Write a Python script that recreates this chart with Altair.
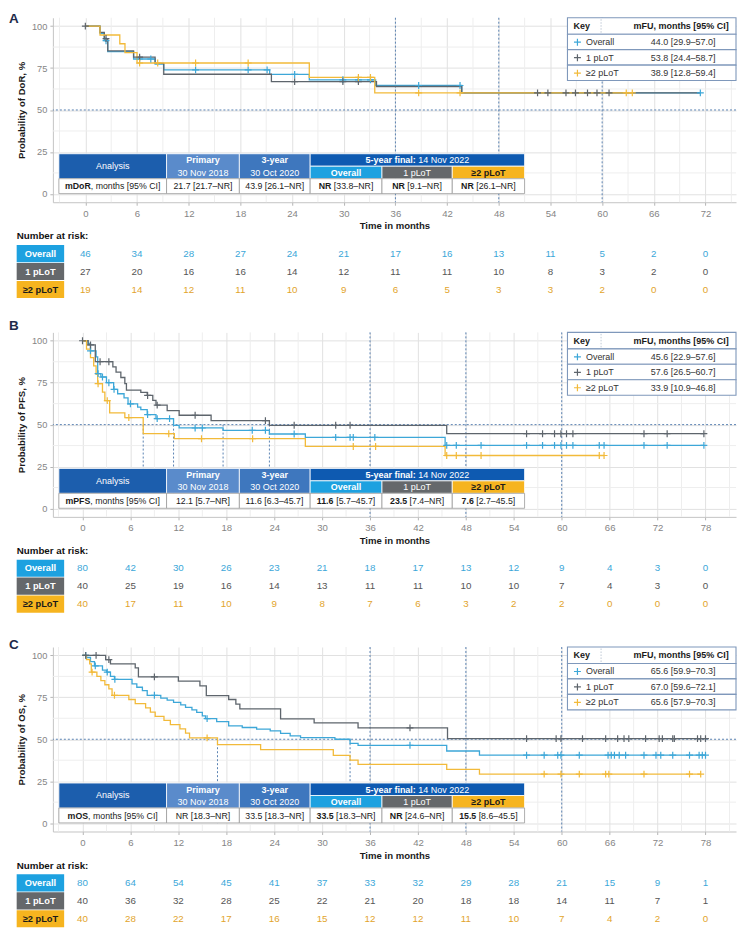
import altair as alt
import pandas as pd

FONT = "Liberation Sans"

# ---------------------------------------------------------------- data
groups = ["Overall", "1 pLoT", "≥2 pLoT"]

# Panel A - duration of response (KM steps: time in months, survival %)
dor_overall_t = [0, 1.7, 2.2, 2.6, 5.6, 8.1, 9.1, 21.4, 26.0, 33.7, 43.7]
dor_overall_s = [100, 95.7, 91.3, 84.8, 80.4, 77.4, 73.9, 71.2, 68.0, 64.6, 60.2]
dor_overall_end = 71.4
dor_overall_cens = [2.4, 6.3, 7.6, 12.8, 18.9, 21.1, 24.3, 29.9, 31.7, 33.1, 38.7, 43.5, 71.4]
dor_1plot_t = [0, 1.7, 2.2, 2.6, 5.6, 8.1, 9.1, 21.6, 33.8, 43.7]
dor_1plot_s = [100, 96.3, 92.6, 85.2, 81.5, 77.8, 71.3, 66.9, 64.0, 60.2]
dor_1plot_end = 71.4
dor_1plot_cens = [0, 2.4, 6.3, 24.3, 29.9, 31.7, 52.5, 53.7, 55.8, 56.9, 58.3, 59.4, 60.8]
dor_2plot_t = [0, 1.7, 4.0, 4.6, 6.0, 26.0, 33.6]
dor_2plot_s = [100, 94.7, 89.5, 84.2, 78.0, 69.4, 60.2]
dor_2plot_end = 63.5
dor_2plot_cens = [6.3, 8.4, 12.8, 18.9, 31.7, 33.1, 38.7, 43.5, 62.8, 63.5]

# Panel B - progression-free survival
pfs_overall_t = [0, 0.7, 1.0, 1.7, 1.9, 2.3, 3.0, 3.9, 4.4, 5.2, 5.7, 6.9, 7.3, 8.1, 9.2,
                 11.4, 12.1, 17.6, 23.4, 27.9, 45.4]
pfs_overall_s = [100, 98.4, 94.0, 90.4, 80.4, 78.4, 75.0, 71.0, 68.4, 66.0, 62.4, 60.4, 59.0, 56.0, 53.6,
                 49.6, 48.0, 46.6, 44.4, 42.4, 37.6]
pfs_overall_end = 77.8
pfs_overall_cens = [1.0, 1.95, 2.5, 3.3, 3.95, 6.0, 8.15, 9.35, 10.9, 14.1, 15.0, 21.25, 22.9, 26.5,
                    31.7, 33.5, 33.9, 36.6, 45.6, 46.8, 49.9, 55.6, 57.6, 59.1, 59.9, 60.6, 61.4,
                    64.7, 65.3, 70.3, 73.2, 77.8]
pfs_1plot_t = [0, 0.7, 1.6, 3.8, 4.2, 4.8, 5.3, 5.5, 7.3, 8.1, 8.8, 9.2, 10.6, 12.1, 16.1, 23.4, 45.6]
pfs_1plot_s = [100, 97.5, 87.5, 84.4, 81.3, 78.1, 74.4, 70.6, 69.2, 67.4, 64.4, 61.6, 58.4, 55.6, 52.4,
               49.6, 44.6]
pfs_1plot_end = 77.8
pfs_1plot_cens = [0, 1.0, 2.2, 3.3, 8.15, 9.35, 14.1, 22.9, 26.5, 31.7, 33.5, 55.6, 57.6, 59.1, 59.9,
                  60.6, 61.4, 70.3, 73.2, 77.8]
pfs_2plot_t = [0, 0.5, 1.0, 1.4, 1.7, 1.9, 2.5, 2.8, 3.4, 5.3, 7.6, 11.5, 27.9, 45.4]
pfs_2plot_s = [100, 95, 90, 85, 80, 74.4, 69.4, 64.3, 57.0, 54.2, 44.6, 41.6, 37.0, 31.6]
pfs_2plot_end = 65.3
pfs_2plot_cens = [1.95, 3.1, 5.8, 10.8, 14.9, 21.3, 33.9, 36.7, 45.6, 46.8, 49.9, 64.7, 65.3]
pfs_median_lines = [7.6, 11.4, 17.6, 23.4]

# Panel C - overall survival
os_overall_t = [0, 0.5, 1.0, 1.5, 2.5, 3.0, 3.5, 4.0, 6.2, 6.8, 7.5, 8.1, 9.8, 10.6, 11.4, 12.3, 12.9,
                13.7, 14.3, 15.0, 15.4, 16.8, 18.3, 20.0, 21.8, 23.5, 24.8, 26.0, 27.3, 31.6, 33.5,
                34.5, 45.6, 49.7]
os_overall_s = [100, 98.75, 96.25, 93.75, 91.25, 90, 87.5, 85.7, 83, 81, 79, 76.2, 74.5, 73.3, 72,
                70.5, 69, 67.5, 66, 64, 62.3, 60.5, 58, 57, 56, 55, 53.5, 52, 51, 50, 47.5, 46.4,
                43.0, 40.5]
os_overall_end = 78.0
os_overall_cens = [0.4, 1.6, 3.1, 4.05, 9.0, 15.6, 41.0, 55.6, 57.8, 59.5, 59.9, 62.2, 65.8, 66.2,
                   66.6, 67.2, 68.0, 70.3, 71.8, 72.4, 73.9, 76.0, 77.2, 77.6, 78.0]
os_1plot_t = [0, 2.9, 3.5, 6.6, 7.0, 12.0, 14.7, 15.5, 18.3, 19.2, 19.7, 24.8, 29.0, 34.5, 45.7]
os_1plot_s = [100, 97.5, 95.0, 92.5, 87.2, 84.6, 81.8, 76.0, 73.7, 70.9, 68.1, 62.2, 59.8, 56.8, 50.4]
os_1plot_end = 78.0
os_1plot_cens = [0.4, 1.7, 3.3, 9.0, 41.0, 55.6, 59.3, 59.9, 62.6, 65.5, 67.0, 67.8, 68.4, 70.5,
                 72.2, 72.6, 73.9, 74.1, 77.0, 77.4, 78.0]
os_2plot_t = [0, 0.5, 0.9, 1.1, 1.8, 2.3, 2.8, 3.3, 3.7, 5.8, 6.6, 7.9, 8.5, 9.1, 10.2, 11.0, 12.2,
              12.9, 13.4, 16.9, 22.3, 31.4, 33.5, 34.5, 45.6, 49.7]
os_2plot_s = [100, 97.5, 95, 90, 87.5, 85, 82.5, 80, 76.2, 73.7, 71.2, 68.7, 66.2, 63.7, 61.2, 58.7,
              56.2, 53.7, 50.8, 46.8, 43.8, 40.4, 37.6, 35.0, 32.1, 29.2]
os_2plot_end = 77.4
os_2plot_cens = [1.2, 4.0, 15.6, 57.8, 59.9, 62.2, 65.5, 65.9, 70.3, 76.0, 77.4]
os_median_lines = [16.9, 33.5]

analysis_cutoffs = [36, 48, 60]

# Number at risk
dor_risk_times = [0, 6, 12, 18, 24, 30, 36, 42, 48, 54, 60, 66, 72]
dor_risk_overall = [46, 34, 28, 27, 24, 21, 17, 16, 13, 11, 5, 2, 0]
dor_risk_1plot = [27, 20, 16, 16, 14, 12, 11, 11, 10, 8, 3, 2, 0]
dor_risk_2plot = [19, 14, 12, 11, 10, 9, 6, 5, 3, 3, 2, 0, 0]
pfs_risk_times = [0, 6, 12, 18, 24, 30, 36, 42, 48, 54, 60, 66, 72, 78]
pfs_risk_overall = [80, 42, 30, 26, 23, 21, 18, 17, 13, 12, 9, 4, 3, 0]
pfs_risk_1plot = [40, 25, 19, 16, 14, 13, 11, 11, 10, 10, 7, 4, 3, 0]
pfs_risk_2plot = [40, 17, 11, 10, 9, 8, 7, 6, 3, 2, 2, 0, 0, 0]
os_risk_times = [0, 6, 12, 18, 24, 30, 36, 42, 48, 54, 60, 66, 72, 78]
os_risk_overall = [80, 64, 54, 45, 41, 37, 33, 32, 29, 28, 21, 15, 9, 1]
os_risk_1plot = [40, 36, 32, 28, 25, 22, 21, 20, 18, 18, 14, 11, 7, 1]
os_risk_2plot = [40, 28, 22, 17, 16, 15, 12, 12, 11, 10, 7, 4, 2, 0]

# Key: median follow-up
dor_mfu = ["44.0 [29.9–57.0]", "53.8 [24.4–58.7]", "38.9 [12.8–59.4]"]
pfs_mfu = ["45.6 [22.9–57.6]", "57.6 [26.5–60.7]", "33.9 [10.9–46.8]"]
os_mfu = ["65.6 [59.9–70.3]", "67.0 [59.6–72.1]", "65.6 [57.9–70.3]"]

# Median table: (bold part, regular part)
dor_medians = [("", "21.7 [21.7–NR]"), ("", "43.9 [26.1–NR]"), ("NR", " [33.8–NR]"),
               ("NR", " [9.1–NR]"), ("NR", " [26.1–NR]")]
pfs_medians = [("", "12.1 [5.7–NR]"), ("", "11.6 [6.3–45.7]"), ("11.6", " [5.7–45.7]"),
               ("23.5", " [7.4–NR]"), ("7.6", " [2.7–45.5]")]
os_medians = [("", "NR [18.3–NR]"), ("", "33.5 [18.3–NR]"), ("33.5", " [18.3–NR]"),
              ("NR", " [24.6–NR]"), ("15.5", " [8.6–45.5]")]

# ---------------------------------------------------------------- style
W, H = 685, 185
YDOM = [-5, 105]
LINE_COL = ["#3DA7D8", "#5E656C", "#F2BA3A"]
BOX_COL = ["#1DA1E0", "#65686B", "#F6B41F"]
BOX_TXT = ["#FFFFFF", "#FFFFFF", "#1A1A1A"]
RISK_COL = ["#3BA7D9", "#555555", "#E2A42B"]
REF_COL = "#5A83B3"
GRID_MAJOR = "#E1E1E1"
GRID_MINOR = "#EEEEEE"
CROSS = "M-1,0L1,0M0,-1L0,1"

REG = {" ": 278, ".": 278, ",": 278, "[": 278, "]": 278, "–": 556, "%": 889, "N": 722, "R": 722,
       "C": 722, "I": 278, "m": 833, "o": 556, "n": 556, "t": 278, "h": 556, "s": 500, "v": 500,
       "e": 556, "r": 333, "a": 556, "l": 222, "i": 222, "y": 500, "f": 278, "k": 500}
BLD = {" ": 278, ".": 278, ",": 278, "m": 889, "D": 722, "o": 611, "R": 722, "N": 722, "P": 667,
       "F": 611, "S": 667, "O": 778, "y": 556, "e": 556, "a": 556, "r": 389, "-": 333, "f": 333,
       "i": 278, "n": 611, "l": 278, ":": 333}


def text_w(s, size, bold=False):
    tbl = BLD if bold else REG
    return sum(tbl.get(ch, 556) for ch in s) / 1000.0 * size


def step_at(t, s, c):
    v = s[0]
    for ti, si in zip(t, s):
        if ti <= c:
            v = si
    return v


def px_y(py):
    return YDOM[1] - py / H * (YDOM[1] - YDOM[0])


def build_panel(cfg):
    xdom = cfg["xdom"]

    def px_x(px):
        return xdom[0] + px / W * (xdom[1] - xdom[0])

    xs = alt.Scale(domain=xdom, nice=False, zero=False)
    ys = alt.Scale(domain=YDOM, nice=False, zero=False)

    def X(ax=None):
        if ax is None:
            return alt.X("x:Q", scale=xs)
        return alt.X("x:Q", scale=xs, axis=ax)

    def Y(ax=None):
        if ax is None:
            return alt.Y("y:Q", scale=ys)
        return alt.Y("y:Q", scale=ys, axis=ax)

    xmax = int(xdom[1])
    xaxis = alt.Axis(
        values=list(range(0, xmax + 1, 6)), title="Time in months", grid=True, gridColor=GRID_MAJOR,
        domainColor="#C4C4C4", tickColor="#B5B5B5", tickSize=3, labelColor="#858585",
        labelFontSize=9.6, labelFont=FONT, labelPadding=3, labelOverlap=False, labelFlush=False,
        titleFont=FONT, titleFontSize=9.6, titleFontWeight="bold", titleColor="#1A1A1A", titlePadding=3)
    yaxis = alt.Axis(
        values=[0, 25, 50, 75, 100], title=cfg["ytitle"], grid=True, gridColor=GRID_MAJOR,
        domainColor="#C4C4C4", tickColor="#B5B5B5", tickSize=3, labelColor="#858585",
        labelFontSize=9.3, labelFont=FONT, labelPadding=3, labelOverlap=False,
        titleFont=FONT, titleFontSize=9.6, titleFontWeight="bold", titleColor="#1A1A1A", titlePadding=5)

    layers = []
    # layer that carries both axes (drawn first, invisible marks)
    layers.append(alt.Chart(pd.DataFrame({"x": [0.0], "y": [0.0]})).mark_point(opacity=0)
                  .encode(x=X(xaxis), y=Y(yaxis)))
    # minor grid lines (between the labelled ticks)
    minor_x = [v for v in range(-3, xmax + 1, 3) if v % 6 != 0]
    layers.append(alt.Chart(pd.DataFrame({"x": minor_x})).mark_rule(color=GRID_MINOR, strokeWidth=1)
                  .encode(x=X()))
    layers.append(alt.Chart(pd.DataFrame({"y": [12.5, 37.5, 62.5, 87.5]})).mark_rule(
        color=GRID_MINOR, strokeWidth=1).encode(y=Y()))
    # reference lines
    layers.append(alt.Chart(pd.DataFrame({"y": [50]})).mark_rule(
        color=REF_COL, strokeDash=[2, 2], strokeWidth=1).encode(y=Y()))
    layers.append(alt.Chart(pd.DataFrame({"x": analysis_cutoffs})).mark_rule(
        color=REF_COL, strokeDash=[2, 2], strokeWidth=1).encode(x=X()))
    if cfg["medlines"]:
        mdf = pd.DataFrame({"x": cfg["medlines"], "y": [50] * len(cfg["medlines"]),
                            "y2": [0] * len(cfg["medlines"])})
        layers.append(alt.Chart(mdf).mark_rule(color=REF_COL, strokeDash=[2, 2], strokeWidth=1)
                      .encode(x=X(), y=Y(), y2="y2:Q"))

    # KM curves + censor marks
    for i, (t, s, end, cens) in enumerate(cfg["curves"]):
        ldf = pd.DataFrame({"x": list(t) + [end], "y": list(s) + [s[-1]]})
        layers.append(alt.Chart(ldf).mark_line(interpolate="step-after", color=LINE_COL[i],
                                               strokeWidth=1.3).encode(x=X(), y=Y()))
    for i, (t, s, end, cens) in enumerate(cfg["curves"]):
        cdf = pd.DataFrame({"x": cens, "y": [step_at(t, s, c) for c in cens]})
        layers.append(alt.Chart(cdf).mark_point(shape=CROSS, size=48, strokeWidth=1.2, filled=False,
                                                color=LINE_COL[i], opacity=1).encode(x=X(), y=Y()))

    rects = []
    texts = []

    def R(x0, x1, y0, y1, fill, stroke="#FFFFFF", sw=0.0):
        rects.append({"x": px_x(x0), "x2": px_x(x1), "y": px_y(y0), "y2": px_y(y1),
                      "fill": fill, "stroke": stroke, "sw": sw})

    def T(x, y, text, col="#1A1A1A", fs=9.0, weight="normal", align="center"):
        texts.append({"x": x, "y": y, "text": text, "col": col, "fs": fs, "weight": weight,
                      "align": align})

    def mixed(cx, py, bold, reg, fs, col="#1A1A1A"):
        wb = text_w(bold, fs, True)
        wr = text_w(reg, fs, False)
        left = cx - (wb + wr) / 2.0
        if bold:
            T(px_x(left), px_y(py), bold, col, fs, "bold", "left")
        lead = len(reg) - len(reg.lstrip(" "))
        T(px_x(left + wb + text_w(" " * lead, fs)), px_y(py), reg.lstrip(" "), col, fs, "normal", "left")

    # ---- analysis table (pixel layout inside the plot area)
    cx_ = [6, 114, 187, 258, 330, 400.5, 473]
    cy_ = [136.4, 148.9, 161.4, 176.4]
    R(cx_[0], cx_[1], cy_[0], cy_[2], "#1C5EAD", "#FFFFFF", 0.8)
    R(cx_[1], cx_[2], cy_[0], cy_[2], "#5A8BCB", "#FFFFFF", 0.8)
    R(cx_[2], cx_[3], cy_[0], cy_[2], "#3E77BE", "#FFFFFF", 0.8)
    R(cx_[3], cx_[6], cy_[0], cy_[1], "#0E5AB1", "#FFFFFF", 0.8)
    for k in range(3):
        R(cx_[3 + k], cx_[4 + k], cy_[1], cy_[2], BOX_COL[k], "#FFFFFF", 0.8)
    for k in range(6):
        R(cx_[k], cx_[k + 1], cy_[2], cy_[3], "#FFFFFF", "#9A9A9A", 0.8)
    hmid1 = (cy_[0] + cy_[1]) / 2 + 0.3
    hmid2 = (cy_[1] + cy_[2]) / 2 + 0.3
    T(px_x(60), px_y((cy_[0] + cy_[2]) / 2), "Analysis", "#FFFFFF", 9.0)
    T(px_x(150.5), px_y(hmid1), "Primary", "#FFFFFF", 9.0, "bold")
    T(px_x(150.5), px_y(hmid2), "30 Nov 2018", "#FFFFFF", 9.0)
    T(px_x(222.5), px_y(hmid1), "3-year", "#FFFFFF", 9.0, "bold")
    T(px_x(222.5), px_y(hmid2), "30 Oct 2020", "#FFFFFF", 9.0)
    mixed(365.5, hmid1, "5-year final:", " 14 Nov 2022", 9.0, "#FFFFFF")
    T(px_x(294), px_y(hmid2), groups[0], "#FFFFFF", 9.0, "bold")
    T(px_x(365.25), px_y(hmid2), groups[1], "#FFFFFF", 9.0)
    T(px_x(436.75), px_y(hmid2), groups[2], "#1A1A1A", 9.0, "bold")
    drow = (cy_[2] + cy_[3]) / 2 + 0.3
    mixed(60, drow, cfg["measure"], ", months [95% CI]", 8.8)
    centers = [150.5, 222.5, 294, 365.25, 436.75]
    for c, (b, r) in zip(centers, cfg["medians"]):
        mixed(c, drow, b, r, 8.8)

    # ---- key box (top right)
    kx0, kx1 = 516, 685
    ky = [0, 16.5, 32, 47.5, 63]
    for k in range(4):
        R(kx0, kx1, ky[k], ky[k + 1], "#FFFFFF", "#7F98BB", 1.1)
    kdf = pd.DataFrame({"x": [px_x(549.7)], "y": [px_y(1.5)], "y2": [px_y(15)]})
    key_div = alt.Chart(kdf).mark_rule(color="#AFBBCB", strokeDash=[1.5, 1.5], strokeWidth=0.8) \
        .encode(x=X(), y=Y(), y2="y2:Q")
    T(px_x(522), px_y(8.5), "Key", "#1A1A1A", 9.0, "bold", "left")
    T(px_x(630), px_y(8.5), "mFU, months [95% CI]", "#1A1A1A", 9.0, "bold")
    key_pts = []
    for k in range(3):
        yc = (ky[k + 1] + ky[k + 2]) / 2 + 0.3
        key_pts.append({"x": px_x(526), "y": px_y(yc), "col": LINE_COL[k]})
        T(px_x(534.5), px_y(yc), groups[k], "#333333", 9.0, "normal", "left")
        T(px_x(632), px_y(yc), cfg["mfu"][k], "#333333", 9.0)

    # ---- number-at-risk table (below the axis)
    T(px_x(-36.3), px_y(219.3), "Number at risk:", "#111111", 9.8, "bold", "left")
    rows_y = [236.5, 254.5, 272.5]
    for k in range(3):
        R(-36.3, 11.3, rows_y[k] - 8.6, rows_y[k] + 8.6, BOX_COL[k])
        T(px_x(-12.5), px_y(rows_y[k] + 0.2), groups[k], BOX_TXT[k], 9.3, "bold")
        for tm, n in zip(cfg["risk_times"], cfg["risk"][k]):
            T(tm, px_y(rows_y[k] + 0.2), str(n), RISK_COL[k], 9.8)

    # ---- panel letter
    T(px_x(-44), px_y(cfg["letter_py"]), cfg["letter"], "#1E2B4A", 13.5, "bold", "left")

    rdf = pd.DataFrame(rects)
    layers.append(alt.Chart(rdf).mark_rect().encode(
        x=X(), x2="x2:Q", y=Y(), y2="y2:Q",
        fill=alt.Fill("fill:N", scale=None), stroke=alt.Stroke("stroke:N", scale=None),
        strokeWidth=alt.StrokeWidth("sw:Q", scale=None)))
    layers.append(key_div)
    layers.append(alt.Chart(pd.DataFrame(key_pts)).mark_point(
        shape=CROSS, size=48, strokeWidth=1.2, filled=False, opacity=1).encode(
        x=X(), y=Y(), color=alt.Color("col:N", scale=None)))

    tdf = pd.DataFrame(texts)
    for (wt, al), g in tdf.groupby(["weight", "align"]):
        layers.append(alt.Chart(g).mark_text(font=FONT, fontWeight=wt, align=al, baseline="middle")
                      .encode(x=X(), y=Y(), text="text:N",
                              color=alt.Color("col:N", scale=None),
                              size=alt.Size("fs:Q", scale=None)))

    return alt.layer(*layers).properties(width=W, height=H)


panels = [
    dict(letter="A", letter_py=1.4, ytitle="Probability of DoR, %", xdom=[-3.77, 75.54],
         measure="mDoR", medians=dor_medians, mfu=dor_mfu, medlines=[],
         curves=[(dor_overall_t, dor_overall_s, dor_overall_end, dor_overall_cens),
                 (dor_1plot_t, dor_1plot_s, dor_1plot_end, dor_1plot_cens),
                 (dor_2plot_t, dor_2plot_s, dor_2plot_end, dor_2plot_cens)],
         risk_times=dor_risk_times, risk=[dor_risk_overall, dor_risk_1plot, dor_risk_2plot]),
    dict(letter="B", letter_py=-6.6, ytitle="Probability of PFS, %", xdom=[-3.71, 81.82],
         measure="mPFS", medians=pfs_medians, mfu=pfs_mfu, medlines=pfs_median_lines,
         curves=[(pfs_overall_t, pfs_overall_s, pfs_overall_end, pfs_overall_cens),
                 (pfs_1plot_t, pfs_1plot_s, pfs_1plot_end, pfs_1plot_cens),
                 (pfs_2plot_t, pfs_2plot_s, pfs_2plot_end, pfs_2plot_cens)],
         risk_times=pfs_risk_times, risk=[pfs_risk_overall, pfs_risk_1plot, pfs_risk_2plot]),
    dict(letter="C", letter_py=-2.4, ytitle="Probability of OS, %", xdom=[-3.71, 81.82],
         measure="mOS", medians=os_medians, mfu=os_mfu, medlines=os_median_lines,
         curves=[(os_overall_t, os_overall_s, os_overall_end, os_overall_cens),
                 (os_1plot_t, os_1plot_s, os_1plot_end, os_1plot_cens),
                 (os_2plot_t, os_2plot_s, os_2plot_end, os_2plot_cens)],
         risk_times=os_risk_times, risk=[os_risk_overall, os_risk_1plot, os_risk_2plot]),
]

chart = alt.vconcat(*[build_panel(p) for p in panels], spacing=130.5, bounds="flush").properties(
    padding={"left": 0, "top": 2.5, "right": 0, "bottom": 0}
).configure(font=FONT).configure_view(stroke=None)

chart.save("out.html", embed_options={"renderer": "svg", "actions": False})
